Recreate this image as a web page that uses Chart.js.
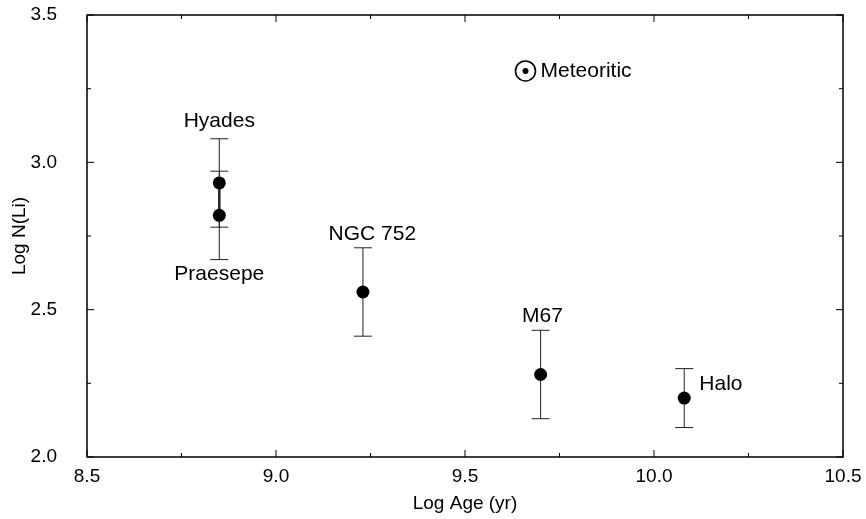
<!DOCTYPE html>
<html>
<head>
<meta charset="utf-8">
<script src="https://cdn.jsdelivr.net/npm/chart.js@4.4.0/dist/chart.umd.min.js"></script>
<style>
  body { margin: 0; background: #fff; }
  #wrap { width: 866px; height: 519px; }
</style>
</head>
<body>
<div id="wrap"><canvas id="chart"></canvas></div>
<script>
// cluster data
var names = ['Hyades', 'Praesepe', 'NGC 752', 'M67', 'Halo'];
var logAge = [8.85, 8.85, 9.23, 9.70, 10.08];
var logLi = [2.93, 2.82, 2.56, 2.28, 2.20];
var errLi = [0.15, 0.15, 0.15, 0.15, 0.10];

// meteoritic (solar system) value
var metAge = [9.66];
var metLi = [3.31];

// where each label sits, in data units
var labelX = [8.85, 8.85, 9.255, 9.705, 10.12, 9.70];
var labelY = [3.14, 2.62, 2.757, 2.478, 2.248, 3.31];
var labelText = ['Hyades', 'Praesepe', 'NGC 752', 'M67', 'Halo', 'Meteoritic'];
var labelAlign = ['center', 'center', 'center', 'center', 'left', 'left'];

var xMajor = [8.5, 9.0, 9.5, 10.0, 10.5];
var xMinor = [8.75, 9.25, 9.75, 10.25];
var yMajor = [2.0, 2.5, 3.0, 3.5];
var yMinor = [2.25, 2.75, 3.25];

var FONT = 'Liberation Sans, Arial, Helvetica, sans-serif';

var points = [];
for (var i = 0; i < names.length; i++) {
    points.push({ x: logAge[i], y: logLi[i] });
}

var extras = {
    id: 'extras',
    beforeDatasetsDraw: function (chart) {
        var ctx = chart.ctx;
        var xs = chart.scales.x, ys = chart.scales.y;
        ctx.save();
        ctx.strokeStyle = '#222';
        ctx.lineWidth = 1;
        for (var i = 0; i < names.length; i++) {
            var px = xs.getPixelForValue(logAge[i]);
            var top = ys.getPixelForValue(logLi[i] + errLi[i]);
            var bot = ys.getPixelForValue(logLi[i] - errLi[i]);
            ctx.beginPath();
            ctx.moveTo(px, top); ctx.lineTo(px, bot);
            ctx.moveTo(px - 9, top); ctx.lineTo(px + 9, top);
            ctx.moveTo(px - 9, bot); ctx.lineTo(px + 9, bot);
            ctx.stroke();
        }
        // thicker overlap between Hyades and Praesepe
        ctx.lineWidth = 2.5;
        ctx.beginPath();
        ctx.moveTo(xs.getPixelForValue(logAge[0]), ys.getPixelForValue(logLi[0]));
        ctx.lineTo(xs.getPixelForValue(logAge[1]), ys.getPixelForValue(logLi[1]));
        ctx.stroke();
        ctx.restore();
    },
    afterDraw: function (chart) {
        var ctx = chart.ctx;
        var a = chart.chartArea;
        var xs = chart.scales.x, ys = chart.scales.y;
        ctx.save();
        ctx.strokeStyle = '#000';
        ctx.lineWidth = 1.5;
        ctx.strokeRect(a.left, a.top, a.right - a.left, a.bottom - a.top);
        ctx.lineWidth = 1;
        ctx.beginPath();
        function xt(v, len) {
            var p = xs.getPixelForValue(v);
            ctx.moveTo(p, a.bottom); ctx.lineTo(p, a.bottom - len);
            ctx.moveTo(p, a.top); ctx.lineTo(p, a.top + len);
        }
        function yt(v, len) {
            var p = ys.getPixelForValue(v);
            ctx.moveTo(a.left, p); ctx.lineTo(a.left + len, p);
            ctx.moveTo(a.right, p); ctx.lineTo(a.right - len, p);
        }
        xMajor.forEach(function (v) { xt(v, 7); });
        xMinor.forEach(function (v) { xt(v, 4); });
        yMajor.forEach(function (v) { yt(v, 7); });
        yMinor.forEach(function (v) { yt(v, 4); });
        ctx.stroke();

        // meteoritic symbol: circle with a dot
        var mx = xs.getPixelForValue(metAge[0]);
        var my = ys.getPixelForValue(metLi[0]);
        ctx.lineWidth = 1.6;
        ctx.beginPath();
        ctx.arc(mx, my, 10, 0, Math.PI * 2);
        ctx.stroke();
        ctx.fillStyle = '#000';
        ctx.beginPath();
        ctx.arc(mx, my, 3, 0, Math.PI * 2);
        ctx.fill();

        // text labels
        ctx.font = '21px ' + FONT;
        ctx.textBaseline = 'middle';
        for (var i = 0; i < labelText.length; i++) {
            ctx.textAlign = labelAlign[i];
            ctx.fillText(labelText[i], xs.getPixelForValue(labelX[i]), ys.getPixelForValue(labelY[i]));
        }
        ctx.restore();
    }
};

var ctx = document.getElementById('chart');
new Chart(ctx, {
    type: 'scatter',
    data: {
        datasets: [{
            label: 'clusters',
            data: points,
            pointRadius: 6.5,
            pointBackgroundColor: '#000',
            pointBorderColor: '#000',
            pointBorderWidth: 0
        }, {
            label: 'meteoritic',
            data: [{ x: metAge[0], y: metLi[0] }],
            pointRadius: 0
        }]
    },
    plugins: [extras],
    options: {
        responsive: true,
        maintainAspectRatio: false,
        animation: false,
        layout: { padding: { left: 0, right: 23, top: 15, bottom: 0 } },
        plugins: { legend: { display: false }, tooltip: { enabled: false } },
        scales: {
            x: {
                type: 'linear',
                min: 8.5, max: 10.5,
                afterFit: function (s) { s.height = 62; s.paddingLeft = 0; s.paddingRight = 0; },
                afterBuildTicks: function (s) { s.ticks = xMajor.map(function (v) { return { value: v }; }); },
                grid: { display: false, drawTicks: false },
                border: { display: false },
                ticks: {
                    color: '#000', padding: 8,
                    font: { family: FONT, size: 19 },
                    maxRotation: 0,
                    callback: function (v) { return v.toFixed(1); }
                },
                title: {
                    display: true, text: 'Log Age (yr)', color: '#000',
                    font: { family: FONT, size: 19 }, padding: { top: 0 }
                }
            },
            y: {
                type: 'linear',
                min: 2.0, max: 3.5,
                afterFit: function (s) { s.width = 87; s.paddingTop = 0; s.paddingBottom = 0; },
                afterBuildTicks: function (s) { s.ticks = yMajor.map(function (v) { return { value: v }; }); },
                grid: { display: false, drawTicks: false },
                border: { display: false },
                ticks: {
                    color: '#000', padding: 30,
                    font: { family: FONT, size: 19 },
                    callback: function (v) { return v.toFixed(1); }
                },
                title: {
                    display: true, text: 'Log N(Li)', color: '#000',
                    font: { family: FONT, size: 19 }, padding: { top: 8, bottom: 0 }
                }
            }
        }
    }
});
</script>
</body>
</html>
